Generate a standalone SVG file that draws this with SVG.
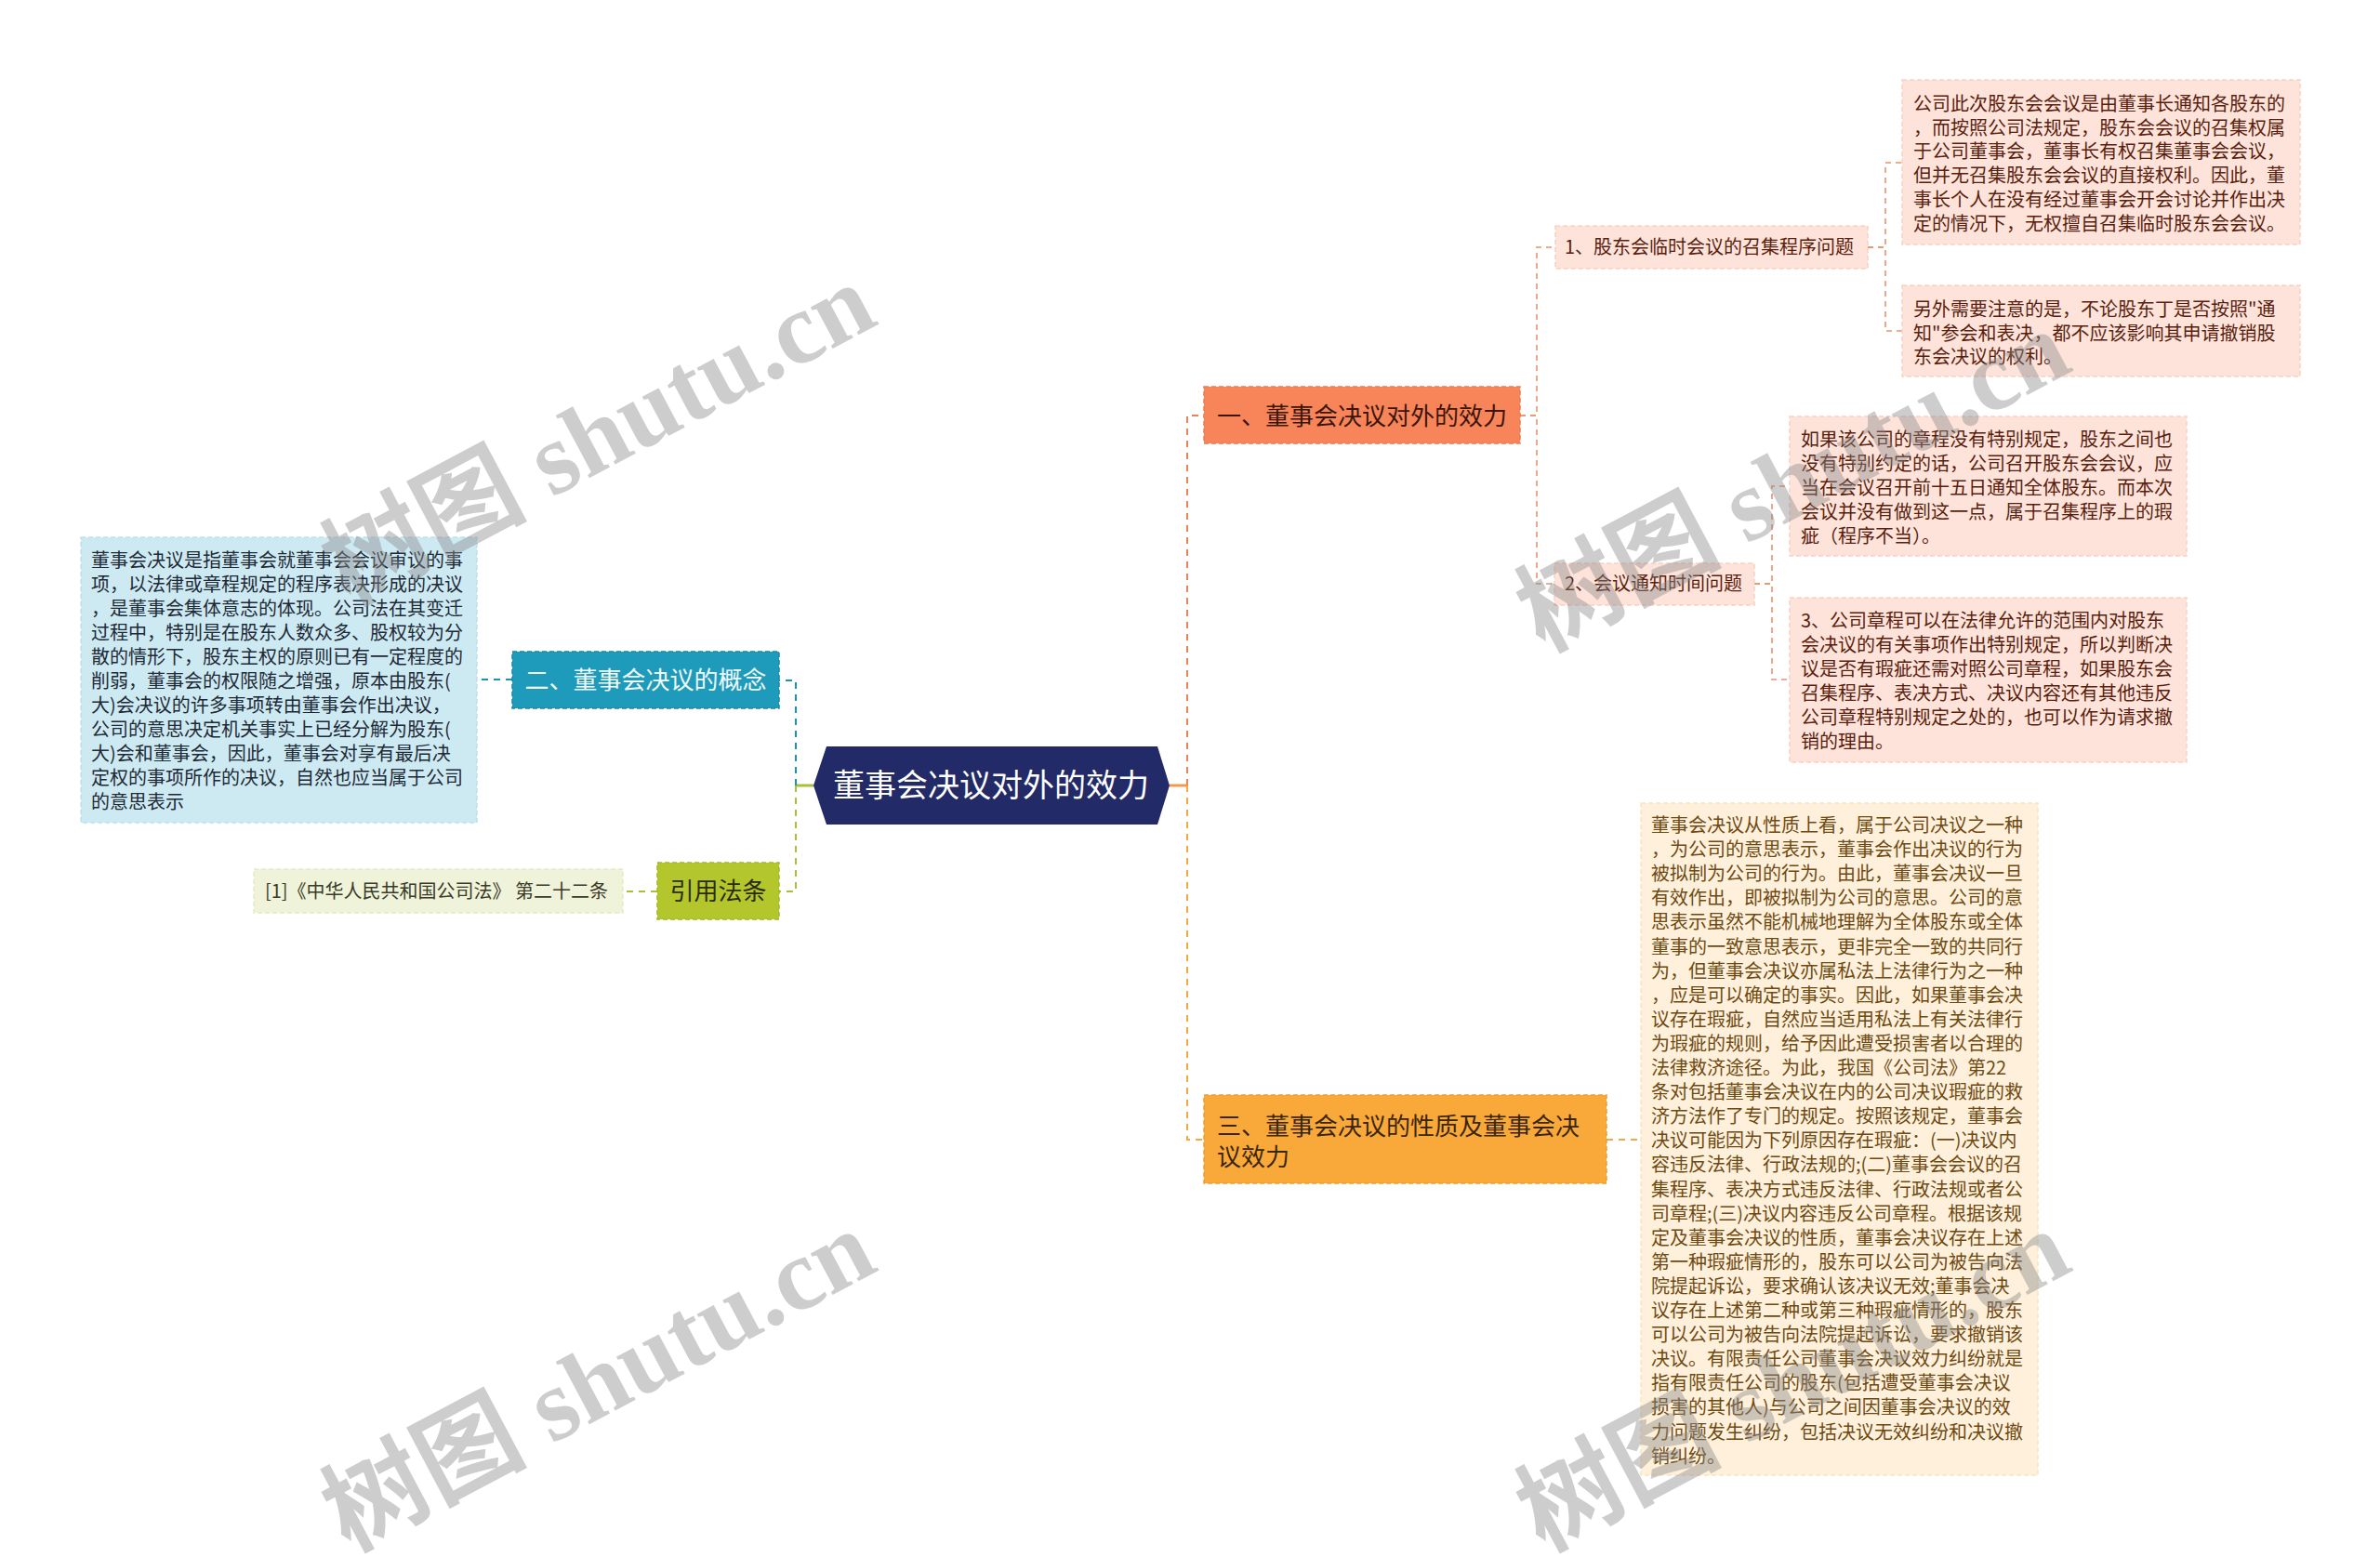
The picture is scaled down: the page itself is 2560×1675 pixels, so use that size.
<svg xmlns="http://www.w3.org/2000/svg" width="2560" height="1675" viewBox="0 0 2560 1675">
<style>
.cjk{font-family:"Noto Sans CJK SC","Noto Sans",sans-serif}
.t20{font-size:20px}
.t26{font-size:26px}
.link{fill:none;stroke-width:2;stroke-dasharray:7 6}
.sub{fill:none;stroke-width:1.6;stroke-dasharray:6 5;stroke:#E6936E}
.nb{stroke-width:1.5;stroke-dasharray:5 3}
.wm{font-size:110px;font-weight:bold;fill:#8a8a8a;opacity:0.42}
</style>
<rect width="2560" height="1675" fill="#ffffff"/>

<g id="connectors">
  <line x1="1258" y1="845" x2="1277" y2="845" stroke="#F39A4A" stroke-width="3"/>
  <line x1="875" y1="845" x2="856" y2="845" stroke="#A9C03A" stroke-width="3"/>
  <path class="link" stroke="#E8845A" d="M1277,845 V447 H1295"/>
  <path class="link" stroke="#F2A844" d="M1277,845 V1226 H1295"/>
  <path class="link" stroke="#1B94B3" d="M856,845 V732 H838"/>
  <path class="link" stroke="#A9C03A" d="M856,845 V959 H838"/>
  <path class="link" stroke="#1B94B3" d="M551,731 H513"/>
  <path class="link" stroke="#A9C03A" d="M707,959 H670"/>
  <path class="link" stroke="#F2A844" d="M1728,1226 H1765"/>
  <path class="sub" d="M1635,447 H1653 V266 H1673"/>
  <path class="sub" d="M1635,447 H1653 V628 H1672"/>
  <path class="sub" d="M2009,266 H2028 V175 H2046"/>
  <path class="sub" d="M2009,266 H2028 V356 H2046"/>
  <path class="sub" d="M1887,628 H1906 V523 H1925"/>
  <path class="sub" d="M1887,628 H1906 V731 H1925"/>
</g>

<g id="root">
  <polygon points="875,845 889,803 1245,803 1258,845 1245,887 889,887" fill="#232A68"/>
  <text class="cjk" x="1066" y="857" font-size="34" fill="#ffffff" text-anchor="middle">董事会决议对外的效力</text>
</g>

<g id="n1">
  <rect class="nb" x="1295" y="416" width="340" height="61" fill="#F8845A" stroke="#EF7A50"/>
  <text class="cjk t26" x="1465" y="457" fill="#3A1508" text-anchor="middle">一、董事会决议对外的效力</text>
</g>

<g id="n1-1">
  <rect class="nb" x="1673" y="243" width="336" height="46" fill="#FDE3DA" stroke="#F6D2C4"/>
  <text class="cjk t20" x="1683" y="273" fill="#5A1E0E">1、股东会临时会议的召集程序问题</text>
</g>

<g id="n1-1-a">
  <rect class="nb" x="2046" y="86" width="428" height="177" fill="#FDE3DA" stroke="#F6D2C4"/>
  <text class="cjk t20" fill="#5A1E0E">
    <tspan x="2058" y="119">公司此次股东会会议是由董事长通知各股东的</tspan>
    <tspan x="2058" y="144.7">，而按照公司法规定，股东会会议的召集权属</tspan>
    <tspan x="2058" y="170.4">于公司董事会，董事长有权召集董事会会议，</tspan>
    <tspan x="2058" y="196.1">但并无召集股东会会议的直接权利。因此，董</tspan>
    <tspan x="2058" y="221.8">事长个人在没有经过董事会开会讨论并作出决</tspan>
    <tspan x="2058" y="247.5">定的情况下，无权擅自召集临时股东会会议。</tspan>
  </text>
</g>

<g id="n1-1-b">
  <rect class="nb" x="2046" y="307" width="428" height="98" fill="#FDE3DA" stroke="#F6D2C4"/>
  <text class="cjk t20" fill="#5A1E0E">
    <tspan x="2058" y="340">另外需要注意的是，不论股东丁是否按照"通</tspan>
    <tspan x="2058" y="365.5">知"参会和表决，都不应该影响其申请撤销股</tspan>
    <tspan x="2058" y="391">东会决议的权利。</tspan>
  </text>
</g>

<g id="n1-2">
  <rect class="nb" x="1672" y="606" width="215" height="45" fill="#FDE3DA" stroke="#F6D2C4"/>
  <text class="cjk t20" x="1683" y="635" fill="#5A1E0E">2、会议通知时间问题</text>
</g>

<g id="n1-2-a">
  <rect class="nb" x="1925" y="448" width="427" height="150" fill="#FDE3DA" stroke="#F6D2C4"/>
  <text class="cjk t20" fill="#5A1E0E">
    <tspan x="1937" y="480">如果该公司的章程没有特别规定，股东之间也</tspan>
    <tspan x="1937" y="506">没有特别约定的话，公司召开股东会会议，应</tspan>
    <tspan x="1937" y="532">当在会议召开前十五日通知全体股东。而本次</tspan>
    <tspan x="1937" y="558">会议并没有做到这一点，属于召集程序上的瑕</tspan>
    <tspan x="1937" y="584">疵（程序不当）。</tspan>
  </text>
</g>

<g id="n1-2-b">
  <rect class="nb" x="1925" y="643" width="427" height="177" fill="#FDE3DA" stroke="#F6D2C4"/>
  <text class="cjk t20" fill="#5A1E0E">
    <tspan x="1937" y="675">3、公司章程可以在法律允许的范围内对股东</tspan>
    <tspan x="1937" y="701">会决议的有关事项作出特别规定，所以判断决</tspan>
    <tspan x="1937" y="727">议是否有瑕疵还需对照公司章程，如果股东会</tspan>
    <tspan x="1937" y="753">召集程序、表决方式、决议内容还有其他违反</tspan>
    <tspan x="1937" y="779">公司章程特别规定之处的，也可以作为请求撤</tspan>
    <tspan x="1937" y="805">销的理由。</tspan>
  </text>
</g>

<g id="n2">
  <rect class="nb" x="551" y="701" width="287" height="61" fill="#1E9BBB" stroke="#1789A8"/>
  <text class="cjk t26" x="694.5" y="741" fill="#F2FAFC" text-anchor="middle">二、董事会决议的概念</text>
</g>

<g id="n2-a">
  <rect class="nb" x="87" y="578" width="426" height="307" fill="#CDE9F2" stroke="#BFE0EB"/>
  <text class="cjk t20" fill="#1E2A36">
    <tspan x="98" y="610">董事会决议是指董事会就董事会会议审议的事</tspan>
    <tspan x="98" y="636">项，以法律或章程规定的程序表决形成的决议</tspan>
    <tspan x="98" y="662">，是董事会集体意志的体现。公司法在其变迁</tspan>
    <tspan x="98" y="688">过程中，特别是在股东人数众多、股权较为分</tspan>
    <tspan x="98" y="714">散的情形下，股东主权的原则已有一定程度的</tspan>
    <tspan x="98" y="740">削弱，董事会的权限随之增强，原本由股东(</tspan>
    <tspan x="98" y="766">大)会决议的许多事项转由董事会作出决议，</tspan>
    <tspan x="98" y="792">公司的意思决定机关事实上已经分解为股东(</tspan>
    <tspan x="98" y="818">大)会和董事会，因此，董事会对享有最后决</tspan>
    <tspan x="98" y="844">定权的事项所作的决议，自然也应当属于公司</tspan>
    <tspan x="98" y="870">的意思表示</tspan>
  </text>
</g>

<g id="n-cite">
  <rect class="nb" x="707" y="928" width="131" height="61" fill="#B3C72C" stroke="#A5B926"/>
  <text class="cjk t26" x="772.5" y="968" fill="#2B2B10" text-anchor="middle">引用法条</text>
</g>

<g id="n-cite-a">
  <rect class="nb" x="273" y="935" width="397" height="47" fill="#EEF3D9" stroke="#E3EAC8"/>
  <text class="cjk t20" x="285" y="966" fill="#3A3A28">[1]《中华人民共和国公司法》 第二十二条</text>
</g>

<g id="n3">
  <rect class="nb" x="1295" y="1178" width="433" height="95" fill="#F9A93A" stroke="#EE9E30"/>
  <text class="cjk t26" fill="#3A2508">
    <tspan x="1309" y="1221">三、董事会决议的性质及董事会决</tspan>
    <tspan x="1309" y="1254">议效力</tspan>
  </text>
</g>

<g id="n3-a">
  <rect class="nb" x="1765" y="864" width="427" height="723" fill="#FEF0DB" stroke="#F8E4C4"/>
  <text class="cjk t20" fill="#6E4A12">
    <tspan x="1776" y="895">董事会决议从性质上看，属于公司决议之一种</tspan>
    <tspan x="1776" y="921.1">，为公司的意思表示，董事会作出决议的行为</tspan>
    <tspan x="1776" y="947.2">被拟制为公司的行为。由此，董事会决议一旦</tspan>
    <tspan x="1776" y="973.3">有效作出，即被拟制为公司的意思。公司的意</tspan>
    <tspan x="1776" y="999.4">思表示虽然不能机械地理解为全体股东或全体</tspan>
    <tspan x="1776" y="1025.5">董事的一致意思表示，更非完全一致的共同行</tspan>
    <tspan x="1776" y="1051.6">为，但董事会决议亦属私法上法律行为之一种</tspan>
    <tspan x="1776" y="1077.7">，应是可以确定的事实。因此，如果董事会决</tspan>
    <tspan x="1776" y="1103.8">议存在瑕疵，自然应当适用私法上有关法律行</tspan>
    <tspan x="1776" y="1129.9">为瑕疵的规则，给予因此遭受损害者以合理的</tspan>
    <tspan x="1776" y="1156">法律救济途径。为此，我国《公司法》第22</tspan>
    <tspan x="1776" y="1182.1">条对包括董事会决议在内的公司决议瑕疵的救</tspan>
    <tspan x="1776" y="1208.2">济方法作了专门的规定。按照该规定，董事会</tspan>
    <tspan x="1776" y="1234.3">决议可能因为下列原因存在瑕疵：(一)决议内</tspan>
    <tspan x="1776" y="1260.4">容违反法律、行政法规的;(二)董事会会议的召</tspan>
    <tspan x="1776" y="1286.5">集程序、表决方式违反法律、行政法规或者公</tspan>
    <tspan x="1776" y="1312.6">司章程;(三)决议内容违反公司章程。根据该规</tspan>
    <tspan x="1776" y="1338.7">定及董事会决议的性质，董事会决议存在上述</tspan>
    <tspan x="1776" y="1364.8">第一种瑕疵情形的，股东可以公司为被告向法</tspan>
    <tspan x="1776" y="1390.9">院提起诉讼，要求确认该决议无效;董事会决</tspan>
    <tspan x="1776" y="1417">议存在上述第二种或第三种瑕疵情形的，股东</tspan>
    <tspan x="1776" y="1443.1">可以公司为被告向法院提起诉讼，要求撤销该</tspan>
    <tspan x="1776" y="1469.2">决议。有限责任公司董事会决议效力纠纷就是</tspan>
    <tspan x="1776" y="1495.3">指有限责任公司的股东(包括遭受董事会决议</tspan>
    <tspan x="1776" y="1521.4">损害的其他人)与公司之间因董事会决议的效</tspan>
    <tspan x="1776" y="1547.5">力问题发生纠纷，包括决议无效纠纷和决议撤</tspan>
    <tspan x="1776" y="1573.6">销纠纷。</tspan>
  </text>
</g>

<g id="watermarks">
  <text class="wm" transform="translate(375,652) rotate(-28)"><tspan font-family="Noto Sans CJK SC, sans-serif">树图</tspan><tspan font-family="Liberation Serif, serif"> shutu.cn</tspan></text>
  <text class="wm" transform="translate(375,1670) rotate(-28)"><tspan font-family="Noto Sans CJK SC, sans-serif">树图</tspan><tspan font-family="Liberation Serif, serif"> shutu.cn</tspan></text>
  <text class="wm" transform="translate(1660,702) rotate(-28)"><tspan font-family="Noto Sans CJK SC, sans-serif">树图</tspan><tspan font-family="Liberation Serif, serif"> shutu.cn</tspan></text>
  <text class="wm" transform="translate(1660,1670) rotate(-28)"><tspan font-family="Noto Sans CJK SC, sans-serif">树图</tspan><tspan font-family="Liberation Serif, serif"> shutu.cn</tspan></text>
</g>
</svg>
